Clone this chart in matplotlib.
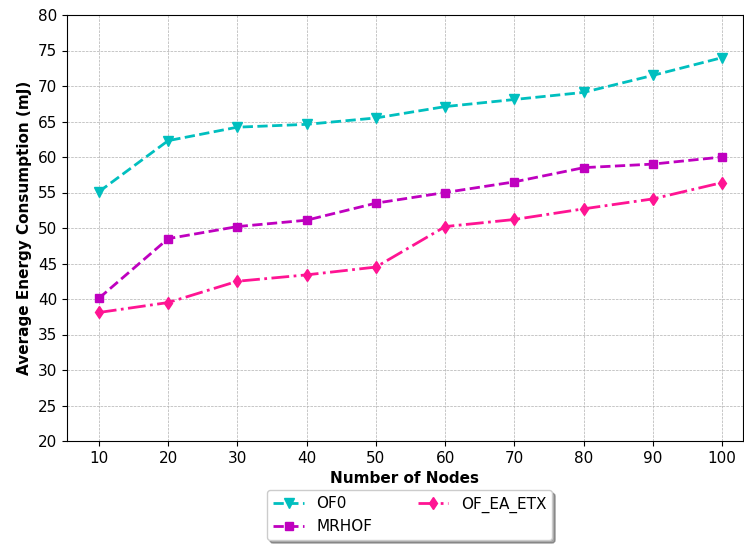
import matplotlib
matplotlib.use("Agg")
import matplotlib.pyplot as plt

# ─── Data ─────────────────────────────────────────────────────────────────────
nodes     = [10, 20, 30, 40, 50, 60, 70, 80, 90, 100]
of0       = [55.1, 62.3, 64.2, 64.6, 65.5, 67.1, 68.1, 69.1, 71.5, 74.0]
mrhof     = [40.1, 48.5, 50.2, 51.1, 53.5, 55.0, 56.5, 58.5, 59.0, 60.0]
of_ea_etx = [38.1, 39.5, 42.5, 43.4, 44.5, 50.2, 51.2, 52.7, 54.1, 56.4]

fig = plt.figure(figsize=(7.44, 5.47), dpi=100)
ax = fig.add_axes([67 / 744, 1 - 441 / 547, 676 / 744, 426 / 547])

ax.plot(nodes, of0, color="c", linestyle="--", marker="v", lw=2, ms=6.5, label="OF0")
ax.plot(nodes, mrhof, color="m", linestyle="--", marker="s", lw=2, ms=6, label="MRHOF")
ax.plot(nodes, of_ea_etx, color="deeppink", linestyle="-.", marker="d", lw=2, ms=6.5,
        label="OF_EA_ETX")

ax.set_xlim(5.4, 103.0)
ax.set_ylim(20, 80)
ax.set_xticks(nodes)
ax.set_yticks(range(20, 81, 5))
ax.tick_params(labelsize=11)
ax.grid(True, linestyle="--", linewidth=0.5, color="#b0b0b0")
ax.set_xlabel("Number of Nodes", fontsize=11, fontweight="bold")
ax.set_ylabel("Average Energy Consumption (mJ)", fontsize=11, fontweight="bold")

ax.legend(loc="upper center", bbox_to_anchor=(0.507, -0.098), ncol=2,
          fontsize=11, shadow=True, fancybox=True, columnspacing=3.0)

fig.savefig("out.png", dpi=100)
